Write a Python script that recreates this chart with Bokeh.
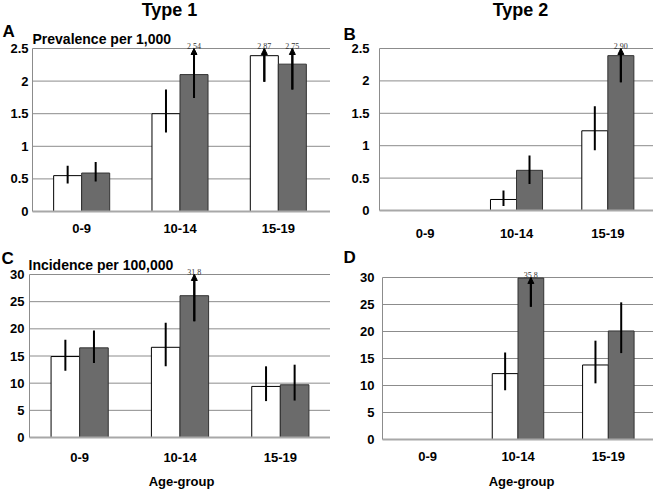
import math
from bokeh.plotting import figure
from bokeh.layouts import column, row
from bokeh.models import (Range1d, ColumnDataSource, LabelSet, Label,
                          Arrow, NormalHead, FixedTicker, NumeralTickFormatter)
from bokeh.transform import dodge
from bokeh.embed import file_html
from bokeh.resources import INLINE

NaN = float("nan")
categories = ["0-9", "10-14", "15-19"]

# Panel A: Type 1, prevalence per 1,000
a_white = [0.55, 1.50, 2.39]
a_white_lo = [0.43, 1.21, 1.99]
a_white_hi = [0.70, 1.87, 2.87]
a_gray = [0.59, 2.10, 2.26]
a_gray_lo = [0.46, 1.74, 1.87]
a_gray_hi = [0.76, 2.54, 2.75]

# Panel B: Type 2, prevalence per 1,000
b_white = [NaN, 0.17, 1.23]
b_white_lo = [NaN, 0.07, 0.93]
b_white_hi = [NaN, 0.31, 1.61]
b_gray = [NaN, 0.62, 2.39]
b_gray_lo = [NaN, 0.41, 1.98]
b_gray_hi = [NaN, 0.85, 2.90]

# Panel C: Type 1, incidence per 100,000
c_white = [14.9, 16.6, 9.4]
c_white_lo = [12.3, 13.1, 6.7]
c_white_hi = [18.0, 21.1, 13.1]
c_gray = [16.5, 26.1, 9.7]
c_gray_lo = [13.7, 21.4, 6.8]
c_gray_hi = [19.7, 31.8, 13.4]

# Panel D: Type 2, incidence per 100,000
d_white = [NaN, 12.2, 13.8]
d_white_lo = [NaN, 9.1, 10.4]
d_white_hi = [NaN, 16.1, 18.3]
d_gray = [NaN, 29.9, 20.1]
d_gray_lo = [NaN, 24.6, 16.0]
d_gray_hi = [NaN, 35.8, 25.4]

prev_ticks = [0, 0.5, 1, 1.5, 2, 2.5]
inc_ticks = [0, 5, 10, 15, 20, 25, 30]

FONT = "Liberation Sans"
BAR_W = 0.285


def make_panel(geo, ticks, white, white_lo, white_hi, gray, gray_lo, gray_hi,
               fmt, x_standoff, y_standoff, texts):
    w, h, left, right, zero_px, top_px = geo
    ymax = ticks[-1]
    ncat = len(categories)
    unit = (right - left) / ncat
    ppu = (zero_px - top_px) / ymax
    x_end = ncat + (w - right) / unit
    p = figure(width=w, height=h, title=None,
               x_range=Range1d(-left / unit, x_end),
               y_range=Range1d(-(h - zero_px) / ppu, ymax + top_px / ppu),
               output_backend="svg", toolbar_location=None, min_border=0)
    p.outline_line_color = None
    p.xgrid.visible = False
    p.ygrid.visible = False

    # horizontal grid lines
    grid_y = [t for t in ticks if t > 0]
    p.segment(x0=[0] * len(grid_y), x1=[x_end] * len(grid_y), y0=grid_y, y1=grid_y,
              line_color="#8c8c8c", line_width=1, level="underlay")

    centers = [i + 0.5 for i in range(ncat)]
    p.xaxis.ticker = FixedTicker(ticks=centers)
    p.xaxis.major_label_overrides = {c: cat for c, cat in zip(centers, categories)}
    p.xaxis.fixed_location = 0
    p.xaxis.bounds = (0, x_end)
    p.yaxis.ticker = FixedTicker(ticks=ticks)
    p.yaxis.formatter = NumeralTickFormatter(format="0.[0]")
    p.yaxis.fixed_location = 0
    p.yaxis.bounds = (0, ymax)
    for ax in (p.xaxis, p.yaxis):
        ax.major_tick_line_color = None
        ax.minor_tick_line_color = None
        ax.major_tick_out = 0
        ax.major_tick_in = 0
        ax.minor_tick_out = 0
        ax.minor_tick_in = 0
        ax.major_label_text_font = FONT
        ax.major_label_text_font_style = "bold"
        ax.major_label_text_font_size = "13px"
        ax.major_label_text_color = "black"
    p.yaxis.axis_line_color = "#8c8c8c"
    p.yaxis.major_label_standoff = y_standoff
    p.xaxis.axis_line_color = "#a8a8a8"
    p.xaxis.axis_line_width = 2
    p.xaxis.major_label_standoff = x_standoff

    series = [(white, white_lo, white_hi, -BAR_W / 2, "white", "black"),
              (gray, gray_lo, gray_hi, BAR_W / 2, "#6b6b6b", "#333333")]
    for vals, lo, hi, off, fill, line in series:
        keep = [i for i, v in enumerate(vals) if not math.isnan(v)]
        src = ColumnDataSource(dict(x=[centers[i] for i in keep],
                                    top=[vals[i] for i in keep],
                                    lo=[lo[i] for i in keep],
                                    hi=[min(hi[i], ymax) for i in keep]))
        xs = dodge("x", off)
        p.vbar(x=xs, top="top", width=BAR_W, source=src, fill_color=fill,
               line_color=line, line_width=1)
        p.segment(x0=xs, y0="lo", x1=xs, y1="hi", source=src,
                  line_color="black", line_width=2)
        over = [i for i in keep if hi[i] > ymax]
        if over:
            asrc = ColumnDataSource(dict(x=[centers[i] for i in over],
                                         lo=[lo[i] for i in over],
                                         end=[ymax for i in over],
                                         txt=[fmt.format(hi[i]) for i in over]))
            p.add_layout(Arrow(end=NormalHead(size=6, fill_color="black", line_color="black"),
                               x_start=xs, y_start="lo", x_end=xs, y_end="end",
                               source=asrc, line_width=2, line_color="black"))
            p.add_layout(LabelSet(x=xs, y="end", text="txt", source=asrc,
                                  text_font=FONT, text_font_size="8px",
                                  text_color="#333333", text_align="center",
                                  text_baseline="bottom"))
    for txt, sx, sy, size, align in texts:
        p.add_layout(Label(x=sx, y=h - sy, x_units="screen", y_units="screen", text=txt,
                           text_font=FONT, text_font_style="bold",
                           text_font_size=size, text_align=align,
                           text_baseline="middle", text_color="black"))
    return p


# geometry: (width, height, y-axis x, right end of categories, y of zero, y of top tick)
pA = make_panel((330, 248, 32, 327, 211, 48), prev_ticks,
                a_white, a_white_lo, a_white_hi, a_gray, a_gray_lo, a_gray_hi,
                "{:.2f}", 12, 4,
                [("Type 1", 169, 9, "18px", "center"),
                 ("A", 2, 31, "17px", "left"),
                 ("Prevalence per 1,000", 32, 38, "14px", "left")])
pB = make_panel((323, 248, 49, 323, 210, 48), prev_ticks,
                b_white, b_white_lo, b_white_hi, b_gray, b_gray_lo, b_gray_hi,
                "{:.2f}", 18, 10,
                [("Type 2", 190, 9, "18px", "center"),
                 ("B", 13, 34, "17px", "left")])
pC = make_panel((330, 242, 29, 330, 189, 26), inc_ticks,
                c_white, c_white_lo, c_white_hi, c_gray, c_gray_lo, c_gray_hi,
                "{:.1f}", 15, 5,
                [("C", 1, 10, "17px", "left"),
                 ("Incidence per 100,000", 28, 16, "14px", "left"),
                 ("Age-group", 181, 233, "13px", "center")])
pD = make_panel((323, 242, 52, 323, 191, 29), inc_ticks,
                d_white, d_white_lo, d_white_hi, d_gray, d_gray_lo, d_gray_hi,
                "{:.1f}", 12, 8,
                [("D", 13, 9, "17px", "left"),
                 ("Age-group", 191, 233, "13px", "center")])

layout = column(row(pA, pB), row(pC, pD))
open("out.html", "w").write(file_html(layout, INLINE))
